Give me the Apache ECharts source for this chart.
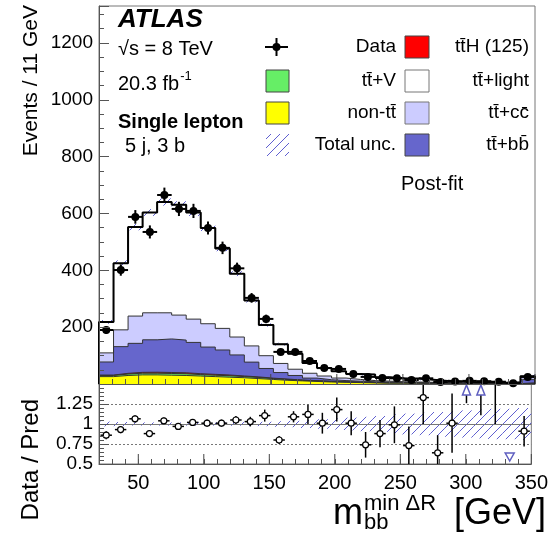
<!DOCTYPE html>
<html>
<head>
<meta charset="utf-8">
<title>m_bb min dR post-fit</title>
<script src="https://cdn.jsdelivr.net/npm/echarts@6/dist/echarts.min.js"></script>
<style>html,body{margin:0;padding:0;background:#fff;}</style>
</head>
<body>
<div id="container" style="width:551px;height:534px;"></div>
<script type="text/javascript">
// bin edges in GeV (11 GeV bins, last one holds overflow)
var binEdges = [20,31,42,53,64,75,86,97,108,119,130,141,152,163,174,185,196,207,218,229,240,251,262,273,284,295,306,317,328,339,350];

// data
var dataCounts = [190,401,588,535,665,616,609,549,479,407,303,229,113,113,81,56,53,35,25,21,20,14,20,7,9,11,10,8,3,25];
var dataErr = [14,20,24,23,26,25,25,23,22,20,17,15,11,11,9,7.5,7.3,5.9,5,4.6,4.5,3.7,4.5,2.6,3,3.3,3.2,2.8,1.7,5];

// post-fit prediction, stacked from the bottom
var nonTT = [26,30,32,32,31,30,28,26,24,22,19,16,13,11,9,7,6,5,4,3,3,2.5,2,2,1.5,1.2,1,1,1,2];
var ttV = [4,5,6,6,6,6,5,5,5,4,4,3,3,2,2,2,1.5,1.2,1,1,1,0.8,0.7,0.6,0.5,0.5,0.4,0.4,0.4,1];
var ttH = [1.5,2.5,3,3.5,3.5,3.5,3.3,3,2.7,2.3,2,1.6,1.3,1,0.8,0.6,0.5,0.4,0.3,0.3,0.2,0.2,0.2,0.2,0.1,0.1,0.1,0.1,0.1,0.3];
var ttbb = [46,94,102,114,118,115,110,96,88,74,52,34,23,16,9,5.5,4,3.4,2.7,2.7,1.8,1.5,1.1,1.2,0.9,1.2,1.5,0.5,0.5,12];
var ttcc = [32,59,96,95,92,88,82,82,76,63,57,45,32,22,17,13,9,6,4,3,2,2,2,1,1,1,0.8,0.6,0.6,7];
var ttlight = [109,234,313,353,390,388,375,337,281,223,160,108,68,54,36,28,24,19,21,14,12,12,9,6,5,2.5,3,2,3.5,5];

// relative total uncertainty per bin
var uncRel = [0.03,0.025,0.02,0.02,0.02,0.02,0.02,0.02,0.02,0.022,0.025,0.028,0.035,0.04,0.05,0.06,0.07,0.08,0.09,0.1,0.12,0.13,0.14,0.15,0.16,0.17,0.18,0.19,0.19,0.2];

// ratio panel
var ratioVal = [0.86,0.93,1.065,0.88,1.04,0.97,1.02,1.01,1.01,1.05,1.03,1.105,0.80,1.09,1.12,1.01,1.18,1.01,0.74,0.88,0.99,0.73,1.33,0.64,1.01,1.83,1.67,1.6,0.46,0.91];
var ratioErr = [0.05,0.045,0.045,0.04,0.04,0.04,0.04,0.045,0.045,0.05,0.06,0.075,0.05,0.07,0.12,0.13,0.15,0.15,0.16,0.17,0.23,0.24,0.33,0.22,0.37,0.57,0.56,0.6,0,0.19];
// 1 = off scale up, -1 = off scale down
var ratioArrow = [0,0,0,0,0,0,0,0,0,0,0,0,0,0,0,0,0,0,0,0,0,0,0,0,0,1,1,0,-1,0];

var xMajorTicks = [50,100,150,200,250,300,350];

var FONT = '"Liberation Sans", Arial, Helvetica, sans-serif';

var mctx = document.createElement('canvas').getContext('2d');
function textW(str, font) { mctx.font = font; return mctx.measureText(str).width; }

function makeHatch() {
	var c = document.createElement('canvas');
	c.width = 9; c.height = 9;
	var g = c.getContext('2d');
	g.strokeStyle = '#5f5fd0';
	g.lineWidth = 1;
	g.beginPath(); g.moveTo(-1, 10); g.lineTo(10, -1); g.stroke();
	return {image: c, repeat: 'repeat'};
}
var hatch = makeHatch();

// cumulative stack
var layers = [nonTT, ttV, ttH, ttbb, ttcc, ttlight];
var layerColors = ['#ffff00', '#66ee66', '#ff0000', '#6666cc', '#ccccff', '#ffffff'];
var cum = [];
var run = dataCounts.map(function () { return 0; });
layers.forEach(function (l) {
	run = run.map(function (v, i) { return v + l[i]; });
	cum.push(run);
});
var total = cum[cum.length - 1];

function stepData(vals) {
	var d = [[binEdges[0], 0]];
	for (var i = 0; i < vals.length; i++) d.push([binEdges[i], vals[i]]);
	d.push([binEdges[vals.length], vals[vals.length - 1]]);
	d.push([binEdges[vals.length], 0]);
	return d;
}

function bandItem(params, api) {
	var p0 = api.coord([api.value(0), api.value(3)]);
	var p1 = api.coord([api.value(1), api.value(2)]);
	return {type: 'rect', shape: {x: p0[0], y: p0[1], width: p1[0] - p0[0], height: p1[1] - p0[1]},
		style: {fill: hatch}};
}

function dataItem(params, api) {
	var xl = api.coord([api.value(3), api.value(1)]);
	var xr = api.coord([api.value(4), api.value(1)]);
	var c = api.coord([api.value(0), api.value(1)]);
	var lo = api.coord([api.value(0), api.value(1) - api.value(2)]);
	var hi = api.coord([api.value(0), api.value(1) + api.value(2)]);
	return {type: 'group', children: [
		{type: 'line', shape: {x1: xl[0], y1: c[1], x2: xr[0], y2: c[1]}, style: {stroke: '#000', lineWidth: 2}},
		{type: 'line', shape: {x1: c[0], y1: lo[1], x2: c[0], y2: hi[1]}, style: {stroke: '#000', lineWidth: 2}},
		{type: 'circle', shape: {cx: c[0], cy: c[1], r: 4}, style: {fill: '#000'}}
	]};
}

function ratioItem(params, api) {
	var xc = api.value(0), y = api.value(1), e = api.value(2), dir = api.value(3);
	var top = api.coord([xc, 1.5]), bot = api.coord([xc, 0.5]);
	var x = top[0];
	var kids = [];
	var lo = Math.max(y - e, 0.5), hi = Math.min(y + e, 1.5);
	if (dir === 1) {
		var ylo = api.coord([xc, lo])[1];
		kids.push({type: 'line', shape: {x1: x, y1: top[1] + 11, x2: x, y2: ylo}, style: {stroke: '#000', lineWidth: 1.5}});
		kids.push({type: 'polygon', shape: {points: [[x, top[1] + 1], [x - 4, top[1] + 11], [x + 4, top[1] + 11]]},
			style: {fill: '#fff', stroke: '#5f5fc0', lineWidth: 1.5}});
	} else if (dir === -1) {
		kids.push({type: 'polygon', shape: {points: [[x, bot[1] - 3], [x - 4.5, bot[1] - 11], [x + 4.5, bot[1] - 11]]},
			style: {fill: '#fff', stroke: '#5f5fc0', lineWidth: 1.5}});
	} else {
		var p1 = api.coord([xc, lo]), p2 = api.coord([xc, hi]);
		if (hi > lo) kids.push({type: 'line', shape: {x1: x, y1: p1[1], x2: x, y2: p2[1]}, style: {stroke: '#000', lineWidth: 1.5}});
		if (y >= 0.5 && y <= 1.5) {
			var c = api.coord([xc, y]);
			var xl = api.coord([api.value(4), y])[0], xr = api.coord([api.value(5), y])[0];
			kids.push({type: 'line', shape: {x1: xl + 1.5, y1: c[1], x2: xr - 1.5, y2: c[1]}, style: {stroke: '#000', lineWidth: 1.5}});
			kids.push({type: 'circle', shape: {cx: c[0], cy: c[1], r: 3}, style: {fill: '#fff', stroke: '#000', lineWidth: 1.2}});
		}
	}
	return {type: 'group', children: kids};
}

function majorTickItem(params, api) {
	var cs = params.coordSys;
	var x = api.coord([api.value(0), 1])[0];
	var yb = cs.y + cs.height;
	return {type: 'line', shape: {x1: x, y1: yb, x2: x, y2: yb - 10}, style: {stroke: '#444', lineWidth: 1}};
}

var series = [];
for (var k = layers.length - 1; k >= 0; k--) {
	series.push({type: 'line', xAxisIndex: 0, yAxisIndex: 0, step: 'end', symbol: 'none', silent: true,
		data: stepData(cum[k]), lineStyle: {color: '#333', width: 1},
		areaStyle: {color: layerColors[k], opacity: 1}, z: 2});
}
series.push({type: 'custom', xAxisIndex: 0, yAxisIndex: 0, renderItem: bandItem, silent: true, z: 3,
	data: total.map(function (t, i) { return [binEdges[i], binEdges[i + 1], t * (1 - uncRel[i]), t * (1 + uncRel[i])]; })});
series.push({type: 'line', xAxisIndex: 0, yAxisIndex: 0, step: 'end', symbol: 'none', silent: true,
	data: stepData(total), lineStyle: {color: '#000', width: 2}, z: 4});
series.push({type: 'custom', xAxisIndex: 0, yAxisIndex: 0, renderItem: dataItem, silent: true, z: 6,
	data: dataCounts.map(function (n, i) {
		return [(binEdges[i] + binEdges[i + 1]) / 2, n, dataErr[i], binEdges[i], binEdges[i + 1]];
	})});
series.push({type: 'custom', xAxisIndex: 0, yAxisIndex: 0, renderItem: majorTickItem, silent: true, z: 7,
	data: xMajorTicks.map(function (v) { return [v]; })});

// ratio panel
series.push({type: 'custom', xAxisIndex: 1, yAxisIndex: 1, renderItem: bandItem, silent: true, z: 3,
	data: uncRel.map(function (u, i) { return [binEdges[i], binEdges[i + 1], 1 - u, 1 + u]; }),
	markLine: {silent: true, symbol: ['none', 'none'], label: {show: false}, animation: false,
		data: [
			{yAxis: 1, lineStyle: {color: '#777', type: 'solid', width: 1}},
			{yAxis: 0.75, lineStyle: {color: '#777', type: [2, 2], width: 1}},
			{yAxis: 1.25, lineStyle: {color: '#777', type: [2, 2], width: 1}}
		]}});
series.push({type: 'custom', xAxisIndex: 1, yAxisIndex: 1, renderItem: ratioItem, silent: true, z: 6,
	data: ratioVal.map(function (r, i) {
		return [(binEdges[i] + binEdges[i + 1]) / 2, r, ratioErr[i], ratioArrow[i], binEdges[i], binEdges[i + 1]];
	})});
series.push({type: 'custom', xAxisIndex: 1, yAxisIndex: 1, renderItem: majorTickItem, silent: true, z: 7,
	data: xMajorTicks.map(function (v) { return [v]; })});

function txt(str, x, y, font, align, extra) {
	var o = {type: 'text', x: x, y: y, z: 100, silent: true,
		style: {text: str, font: font, fill: '#000', align: align || 'left', textAlign: align || 'left',
			verticalAlign: 'middle', textVerticalAlign: 'middle'}};
	if (extra) for (var key in extra) o[key] = extra[key];
	return o;
}
function box(x, y, w, h, fill, stroke) {
	return {type: 'rect', z: 100, silent: true, shape: {x: x, y: y, width: w, height: h},
		style: {fill: fill, stroke: stroke || '#444', lineWidth: stroke === 'none' ? 0 : 1}};
}

var fLeg = '19px ' + FONT, f20 = '20px ' + FONT;
var fBig = '36px ' + FONT, fSup = '22px ' + FONT;
var graphic = [];
graphic.push(txt('Events / 11 GeV', 31, 5, '21px ' + FONT, 'right', {rotation: Math.PI / 2}));
graphic.push(txt('Data / Pred', 31, 399, '24px ' + FONT, 'right', {rotation: Math.PI / 2}));
graphic.push(txt('ATLAS', 118, 20, 'italic bold 26px ' + FONT));
graphic.push(txt('\u221As = 8 TeV', 118, 49, f20));
graphic.push(txt('20.3 fb', 118, 84, f20));
graphic.push(txt('-1', 118 + textW('20.3 fb', f20) + 1, 76, '13px ' + FONT));
graphic.push(txt('Single lepton', 118, 122, 'bold 20px ' + FONT));
graphic.push(txt('5 j, 3 b', 125, 146, f20));

// legend, left column
graphic.push({type: 'group', z: 100, silent: true, children: [
	{type: 'line', shape: {x1: 265, y1: 47, x2: 288, y2: 47}, style: {stroke: '#000', lineWidth: 2}},
	{type: 'line', shape: {x1: 276.5, y1: 38, x2: 276.5, y2: 56}, style: {stroke: '#000', lineWidth: 2}},
	{type: 'circle', shape: {cx: 276.5, cy: 47, r: 4}, style: {fill: '#000'}}
]});
graphic.push(box(266, 70, 23, 22, layerColors[1]));
graphic.push(box(266, 102, 23, 22, layerColors[0]));
graphic.push(box(266, 134, 23, 22, hatch, 'none'));
graphic.push(txt('Data', 396, 47, fLeg, 'right'));
graphic.push(txt('tt\u0304+V', 396, 81, fLeg, 'right'));
graphic.push(txt('non-tt\u0304', 396, 113, fLeg, 'right'));
graphic.push(txt('Total unc.', 396, 145, fLeg, 'right'));
// legend, right column
graphic.push(box(405, 36, 24, 22, layerColors[2]));
graphic.push(box(405, 70, 24, 22, layerColors[5], '#777'));
graphic.push(box(405, 102, 24, 22, layerColors[4], '#777'));
graphic.push(box(405, 134, 24, 22, layerColors[3], '#444'));
graphic.push(txt('tt\u0304H (125)', 529, 47, fLeg, 'right'));
graphic.push(txt('tt\u0304+light', 529, 81, fLeg, 'right'));
graphic.push(txt('tt\u0304+cc\u0304', 529, 113, fLeg, 'right'));
graphic.push(txt('tt\u0304+bb\u0304', 529, 145, fLeg, 'right'));
graphic.push(txt('Post-fit', 401, 184, f20));

// x axis title m_bb^{min dR} [GeV]
var mx = 333, wm = textW('m', fBig);
graphic.push(txt('m', mx, 514, fBig));
graphic.push(txt('min \u0394R', mx + wm + 1, 504, fSup));
graphic.push(txt('bb', mx + wm + 1, 523, fSup));
graphic.push(txt('[GeV]', 546, 514, fBig, 'right'));

var axisCol = '#555';
function plainNum(v) { return String(v); }
function xAxisCfg(gi, labels) {
	return {gridIndex: gi, type: 'value', min: 20, max: 350, interval: 10, z: 10,
		axisLine: {show: true, lineStyle: {color: axisCol}},
		axisTick: {show: true, inside: true, length: 5, lineStyle: {color: axisCol}},
		splitLine: {show: false},
		axisLabel: {show: labels, margin: 9, fontSize: 20, color: '#000', fontFamily: FONT,
			formatter: function (v) { return v % 50 === 0 ? String(v) : ''; }}};
}

var chart = echarts.init(document.getElementById('container'));
chart.setOption({
	animation: false,
	grid: [
		{left: 99, top: 6, width: 436, height: 378, show: true, borderColor: '#777', borderWidth: 1},
		{left: 99, top: 384, width: 436, height: 80, show: true, borderColor: '#777', borderWidth: 1}
	],
	xAxis: [xAxisCfg(0, false), xAxisCfg(1, true)],
	yAxis: [
		{gridIndex: 0, type: 'value', min: 0, max: 1330, interval: 200, z: 10,
			axisLine: {show: true, lineStyle: {color: axisCol}},
			axisTick: {show: true, inside: true, length: 10, lineStyle: {color: axisCol}},
			minorTick: {show: true, splitNumber: 4, length: 5, lineStyle: {color: axisCol}},
			splitLine: {show: false},
			axisLabel: {showMinLabel: false, showMaxLabel: false, margin: 6, fontSize: 19, color: '#000',
				fontFamily: FONT, formatter: plainNum}},
		{gridIndex: 1, type: 'value', min: 0.5, max: 1.5, interval: 0.25, z: 10,
			axisLine: {show: true, lineStyle: {color: axisCol}},
			axisTick: {show: true, inside: true, length: 10, lineStyle: {color: axisCol}},
			minorTick: {show: true, splitNumber: 5, length: 5, lineStyle: {color: axisCol}},
			splitLine: {show: false},
			axisLabel: {showMaxLabel: false, margin: 6, fontSize: 19, color: '#000', fontFamily: FONT,
				formatter: plainNum}}
	],
	series: series,
	graphic: graphic
});
</script>
</body>
</html>
